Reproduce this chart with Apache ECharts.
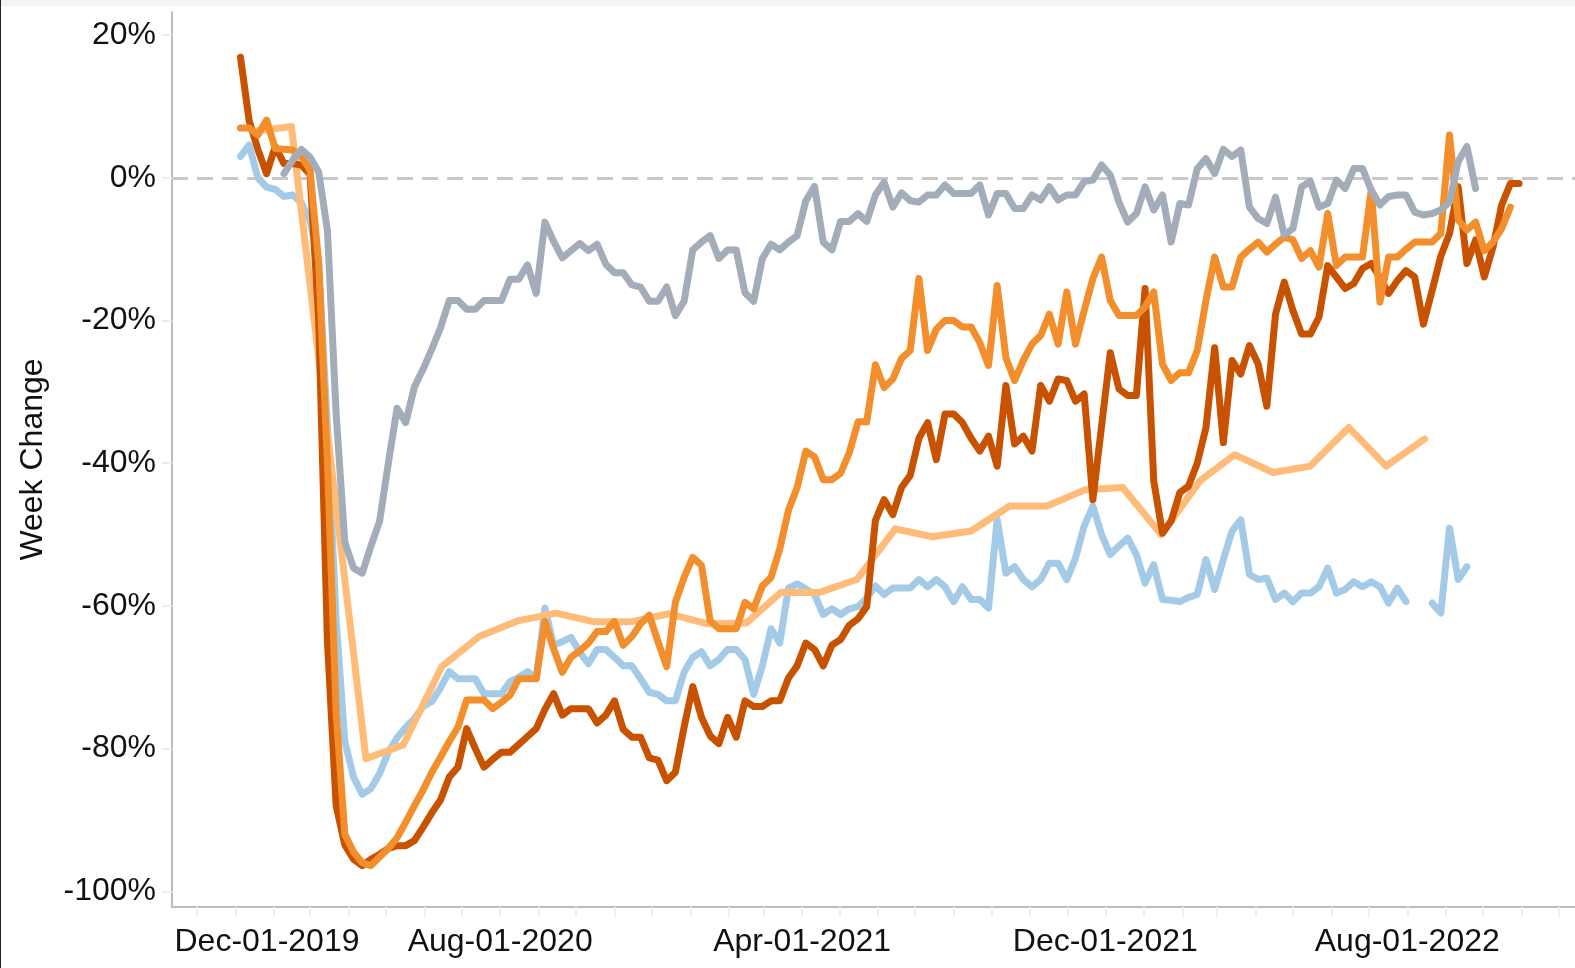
<!DOCTYPE html>
<html>
<head>
<meta charset="utf-8">
<title>Week Change</title>
<script src="https://cdn.jsdelivr.net/npm/echarts@6/dist/echarts.min.js"></script>
<style>
  html, body {
    margin: 0;
    padding: 0;
    background: #fff;
  }
  #chart {
    width: 1575px;
    height: 968px;
  }
</style>
</head>
<body>
<div id="chart"></div>
<script>
// weekly series start on Sunday Jan-05-2020, one value per week
const weekStart = '2020-01-05'

const darkOrange = [
  16.9, 8.0, 4.0, 0.6, 4.4, 2.0, 2.0, 1.8, 0.5, -20,
  -65, -88, -93.5, -95.5, -96.4, -95.5, -94.8, -94, -93.6, -93.6,
  -92.9, -91, -89, -87.2, -84, -82.6, -77.2, -80.0, -82.6, -81.5,
  -80.5, -80.5, -79.4, -78.3, -77.2, -74.5, -72.3, -75.3, -74.4, -74.4,
  -74.4, -76.4, -75.3, -73.3, -77.3, -78.4, -78.4, -81.3, -81.6, -84.5,
  -83.3, -77, -71.3, -75.6, -78.2, -79.3, -75.6, -78.4, -73.3, -74.1,
  -74.1, -73.3, -73.3, -70.1, -68.4, -65.2, -66.1, -68.4, -65.5, -64.7,
  -62.7, -61.8, -60.1, -48.0, -45.1, -47.2, -43.4, -41.7, -36.5, -34.3,
  -39.5, -33.1, -33.1, -34.3, -36.5, -38.3, -36.2, -40.4, -29.1, -37.3,
  -36.2, -38.3, -29.1, -31.3, -28.2, -28.4, -31.3, -30.3, -45.1, -34.8,
  -24.5, -29.6, -30.5, -30.5, -15.5, -42.5, -49.8, -48.1, -44.1, -43.2,
  -40, -35.0, -23.8, -37.1, -25.6, -27.5, -23.5, -26.1, -32.0, -19.1,
  -14.6, -18.6, -21.9, -21.9, -19.5, -12.3, -13.9, -15.5, -14.8, -12.7,
  -12.0, -14, -16.2, -14.4, -13.0, -13.9, -20.5, -15.8, -11, -7.8,
  -1.25, -12.0, -8.7, -13.9, -9.7, -3.8, -0.8, -0.8
]

const orange = [
  7.0, 7.0, 6.0, 8.1, 4.1, 4.0, 3.9, 3.0, 1.1, -12,
  -40, -75, -92, -94.5, -96, -96.4, -95.2, -94, -92.5, -90.3,
  -88, -85.8, -83.3, -81.2, -79, -77, -73.2, -73.2, -73.2, -74.4,
  -73.5, -72.5, -70.2, -70.2, -70.2, -62.2, -66.0, -69.3, -67.2, -66.3,
  -65.2, -63.6, -63.6, -62.2, -65.5, -64.3, -62.5, -61.3, -65.0, -68.5,
  -59.5, -56, -53.2, -54.3, -62.1, -63.2, -63.2, -63.2, -59.5, -60.4,
  -57.2, -56.0, -52.0, -46.6, -43.4, -38.3, -39.1, -42.3, -42.3, -41.4,
  -38.5, -34.2, -34.2, -26.2, -29.4, -28.2, -25.3, -24.2, -14.1, -24.2,
  -21.2, -20.0, -20.0, -20.9, -20.9, -23.1, -26.3, -15.1, -25.2, -28.4,
  -25.6, -23.3, -22.1, -19.1, -23.3, -16.0, -23.3, -18.6, -14.1, -11.1,
  -17.2, -19.3, -19.3, -19.3, -18.1, -16.0, -26.1, -28.4, -27.3, -27.3,
  -24.2, -17.2, -11.1, -15.3, -15.3, -11.1, -10, -9.0, -10.4, -9.3,
  -8.3, -8.7, -11.3, -10.2, -12.5, -5.0, -12.3, -11.1, -11.1, -11.1,
  -1.7, -17.4, -11.1, -11.1, -10, -9.0, -9.0, -9.0, -7.8, 6.0,
  -5.9, -7.3, -6.2, -10.2, -9.0, -7.1, -4.1
]

// null = week with no value
const blue = [
  3.0, 4.6, 0.0, -1.3, -1.6, -2.6, -2.4, -3.5, -6, -12,
  -35, -62, -79, -84, -86.4, -85.6, -83.5, -80.5, -78.5, -77.0,
  -75.8, -74.1, -73.4, -71.5, -69.2, -70.2, -70.2, -70.2, -72.3, -72.3,
  -72.3, -70.6, -70, -69.2, -70.2, -60.3, -65.5, -65, -64.4, -66.5,
  -68.1, -66.1, -66.1, -67.2, -68.4, -68.4, -70.2, -72.1, -72.4, -73.3,
  -73.3, -69.3, -67.2, -66.4, -68.4, -67.5, -66.1, -66.1, -67.5, -72.4,
  -68.4, -63.2, -65.2, -57.5, -56.9, -57.6, -58.4, -61.2, -60.4, -61.2,
  -60.4, -60.1, -58.9, -57.2, -58.4, -57.5, -57.5, -57.5, -56.3, -57.3,
  -56.3, -57.3, -59.4, -57.3, -59.1, -59.1, -60.3, -47.9, -55.4, -54.5,
  -56.3, -57.3, -56.3, -54.0, -54.0, -56.3, -53.3, -48.8, -46.0, -50.0,
  -52.8, -51.6, -50.5, -52.8, -56.8, -54.2, -59.1, -59.2, -59.4, -58.8,
  -58.4, -53.5, -57.7, -53.5, -49.5, -47.9, -55.6, -56.3, -56.1, -59.1,
  -58.2, -59.4, -58.2, -58.2, -57.3, -54.7, -58.2, -57.7, -56.6, -57.3,
  -56.6, -57.3, -59.6, -57.5, -59.4, null, null, -59.6, -61.0, -49.1,
  -56.3, -54.5
]

const gray = [
  null, null, null, null, null, 0.6, 2.5, 4.0, 2.9, 0.8,
  -7.4, -33.1, -51.1, -54.7, -55.4, -51.6, -48.1, -40, -32.3, -34.3,
  -29.3, -26.8, -24.0, -21.0, -17.2, -17.2, -18.4, -18.4, -17.2, -17.2,
  -17.2, -14.2, -14.2, -12.2, -16.2, -6.2, -8.9, -11.2, -10.2, -9.2,
  -10.2, -9.3, -12.1, -13.3, -13.3, -15.0, -15.3, -17.3, -17.3, -15.3,
  -19.3, -17.3, -10.1, -9.0, -8.1, -11.3, -10.1, -10.1, -16.1, -17.3,
  -11.3, -9.3, -10.1, -9.0, -8.1, -3.2, -1.2, -9.0, -10.1, -6.1,
  -6.1, -5.0, -6.1, -2.4, -0.6, -4.1, -2.1, -3.2, -3.4, -2.4,
  -2.4, -1.0, -2.2, -2.2, -2.2, -1.0, -5.2, -2.2, -2.2, -4.3,
  -4.3, -2.4, -3.1, -1.25, -3.1, -2.4, -2.4, -0.5, -0.3, 1.8,
  0.4, -3.4, -6.2, -5.0, -1.25, -4.5, -2.4, -9.0, -3.6, -3.8,
  1.3, 2.7, 0.6, 4.0, 3.0, 3.9, -4.1, -5.7, -6.4, -2.7,
  -8.0, -7.1, -1.25, -0.5, -4.1, -3.6, -0.3, -1.5, 1.3, 1.3,
  -1.7, -3.8, -2.6, -2.4, -2.4, -4.8, -5.2, -5.0, -4.5, -3.4,
  2.3, 4.4, -1.5
]

// monthly series, one value on the 15th of each month
const peachMonths = [
  '2020-01-15', '2020-02-15', '2020-03-15', '2020-04-15', '2020-05-15', '2020-06-15',
  '2020-07-15', '2020-08-15', '2020-09-15', '2020-10-15', '2020-11-15', '2020-12-15',
  '2021-01-15', '2021-02-15', '2021-03-15', '2021-04-15', '2021-05-15', '2021-06-15',
  '2021-07-15', '2021-08-15', '2021-09-15', '2021-10-15', '2021-11-15', '2021-12-15',
  '2022-01-15', '2022-02-15', '2022-03-15', '2022-04-15', '2022-05-15', '2022-06-15',
  '2022-07-15', '2022-08-15'
]
const peach = [
  6.5, 7.2, -35.7, -81.4, -79.5, -68.5, -64.3, -62.1, -61.0, -62.2, -62.2, -61.1,
  -62.5, -62.4, -58.1, -58.1, -56.3, -49.2, -50.3, -49.5, -46.0, -46.0, -43.7, -43.4,
  -50.0, -42.5, -38.8, -41.3, -40.4, -35.0, -40.4, -36.6
]

const xLabelDates = ['2019-12-01', '2020-08-01', '2021-04-01', '2021-12-01', '2022-08-01']
const yTicks = [20, 0, -20, -40, -60, -80, -100]

const monthNames = ['Jan', 'Feb', 'Mar', 'Apr', 'May', 'Jun', 'Jul', 'Aug', 'Sep', 'Oct', 'Nov', 'Dec']
const DAY = 24 * 3600 * 1000

const toTime = (s) => {
  const p = s.split('-')
  return Date.UTC(+p[0], +p[1] - 1, +p[2])
}
const pad2 = (n) => (n < 10 ? '0' + n : '' + n)
const fmtDate = (t) => {
  const d = new Date(t)
  return monthNames[d.getUTCMonth()] + '-' + pad2(d.getUTCDate()) + '-' + d.getUTCFullYear()
}

const weekly = (values) => values.map((v, i) => [toTime(weekStart) + i * 7 * DAY, v])

// monthly ticks Dec-2019 .. Dec-2022
const monthTicks = []
for (let y = 2019; y <= 2022; y++) {
  for (let m = 0; m < 12; m++) {
    const t = Date.UTC(y, m, 1)
    if (t >= Date.UTC(2019, 11, 1) && t <= Date.UTC(2022, 11, 1)) monthTicks.push(t)
  }
}
const labelTimes = xLabelDates.map(toTime)

const font = "'Liberation Sans', Arial, sans-serif"

const lineSeries = (name, data, color, extra) => Object.assign({
  name: name,
  type: 'line',
  data: data,
  showSymbol: false,
  symbol: 'none',
  connectNulls: false,
  lineStyle: { width: 7, color: color, cap: 'round', join: 'round' },
  itemStyle: { color: color },
  emphasis: { disabled: true }
}, extra || {})

const chart = echarts.init(document.getElementById('chart'))

chart.setOption({
  animation: false,
  backgroundColor: '#fff',
  textStyle: { fontFamily: font },
  grid: { left: 172, right: 0, top: 12, bottom: 61, containLabel: false },
  graphic: [
    { type: 'rect', left: 0, top: 0, shape: { width: 1575, height: 6 }, style: { fill: '#f3f3f3' }, z: 10 },
    { type: 'rect', left: 0, top: 0, shape: { width: 1, height: 968 }, style: { fill: '#222' }, z: 10 }
  ],
  xAxis: {
    // dates as UTC timestamps on a plain value scale
    type: 'value',
    min: toTime('2019-12-01') - 20.1 * DAY,
    max: toTime('2019-12-01') + 1109 * DAY,
    axisLine: { show: true, onZero: false, lineStyle: { color: '#bdbdbd', width: 2 } },
    axisTick: { show: true, length: 10, customValues: monthTicks, lineStyle: { color: '#eeeeee', width: 2 } },
    splitLine: { show: false },
    axisLabel: {
      customValues: labelTimes,
      margin: 19,
      fontSize: 32,
      color: '#111',
      fontFamily: font,
      formatter: (v) => {
        const s = fmtDate(v)
        return v === labelTimes[0] ? '{first|' + s + '}' : s
      },
      rich: {
        first: { fontSize: 32, color: '#111', fontFamily: font, padding: [0, 0, 0, 140] }
      }
    }
  },
  yAxis: {
    type: 'value',
    min: -102.2,
    max: 23.25,
    name: 'Week Change',
    nameLocation: 'middle',
    nameRotate: 90,
    nameGap: 123,
    nameTextStyle: { fontSize: 32, color: '#111', fontFamily: font },
    axisLine: { show: true, lineStyle: { color: '#bdbdbd', width: 2 } },
    axisTick: { show: true, length: 10, customValues: yTicks, lineStyle: { color: '#eeeeee', width: 2 } },
    splitLine: { show: false },
    axisLabel: {
      customValues: yTicks,
      margin: 16,
      fontSize: 32,
      color: '#111',
      fontFamily: font,
      formatter: (v) => v + '%'
    }
  },
  series: [
    lineSeries('blue', weekly(blue), '#a3cbe8', {
      markLine: {
        z: 1,
        silent: true,
        symbol: 'none',
        label: { show: false },
        lineStyle: { type: [16, 9], color: '#c8c8c8', width: 3 },
        data: [{ yAxis: 0 }]
      }
    }),
    lineSeries('peach', peachMonths.map((d, i) => [toTime(d), peach[i]]), '#ffbc79'),
    lineSeries('darkOrange', weekly(darkOrange), '#c85200'),
    lineSeries('orange', weekly(orange), '#f28e2b'),
    lineSeries('gray', weekly(gray), '#a3acb9')
  ]
})
</script>
</body>
</html>
